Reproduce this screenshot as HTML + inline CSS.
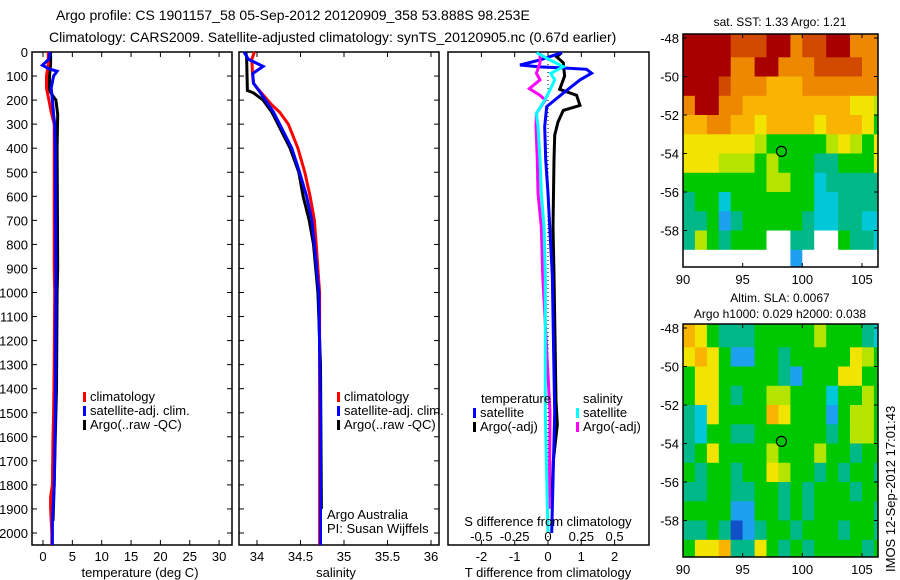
<!DOCTYPE html>
<html><head><meta charset="utf-8"><style>
html,body{margin:0;padding:0;background:#fff;}
svg{display:block;font-family:"Liberation Sans",sans-serif;}
</style></head><body>
<svg id="s" width="900" height="580" viewBox="0 0 900 580" xmlns="http://www.w3.org/2000/svg">
<text x="56" y="20" font-size="14">Argo profile: CS 1901157_58 05-Sep-2012 20120909_358 53.888S 98.253E</text>
<text x="49" y="42" font-size="14">Climatology: CARS2009. Satellite-adjusted climatology: synTS_20120905.nc (0.67d earlier)</text>
<g id="g"></g>
</svg>
<script>
// ---- data ----
const depthTicks=[0,100,200,300,400,500,600,700,800,900,1000,1100,1200,1300,1400,1500,1600,1700,1800,1900,2000];
const tempTicks=[0,5,10,15,20,25,30];
const salTicks=[34,34.5,35,35.5,36];
const salTickLabels=["34","34.5","35","35.5","36"];
const tdTicks=[-2,-1,0,1,2];
const sdTicks=[-0.5,-0.25,0,0.25,0.5];
const sdTickLabels=["-0.5","-0.25","0","0.25","0.5"];

const tClimD=[0,50,100,150,200,250,300,400,600,900,1000,1300,1500,1600,1800,1850,1900,2000,2050];
const tClimV=[0.9,0.9,0.6,0.6,1.0,1.4,1.9,1.9,1.9,1.9,2.0,1.9,1.8,1.7,1.6,1.3,1.3,1.5,1.5];
const tSatD=[0,30,55,70,80,100,150,200,260,300,400,1000,1500,1800,1950,2050];
const tSatV=[1.2,1.0,-0.1,1.0,2.4,1.8,1.4,1.6,1.8,2.0,2.1,2.2,2.1,1.9,1.6,1.6];
const tArgD=[0,50,100,160,180,200,260,400,900,1000,1400,1600,1800,1950];
const tArgV=[1.3,1.3,1.1,1.1,1.6,2.2,2.5,2.4,2.5,2.4,2.3,2.1,1.9,1.7];

const sClimD=[0,30,100,130,170,220,250,300,400,500,600,700,800,1000,1500,2050];
const sClimV=[33.97,33.94,33.95,33.96,34.05,34.17,34.26,34.36,34.47,34.55,34.61,34.66,34.68,34.72,34.72,34.72];
const sSatD=[0,30,60,90,130,170,250,300,400,500,600,700,800,1000,1500,2050];
const sSatV=[33.85,33.90,34.07,33.95,33.96,34.04,34.19,34.26,34.40,34.49,34.57,34.63,34.66,34.71,34.73,34.73];
const sArgD=[0,20,160,170,200,250,300,400,500,600,700,800,1000,1300,1900];
const sArgV=[33.87,33.88,33.89,33.96,34.07,34.17,34.24,34.38,34.48,34.53,34.60,34.65,34.70,34.73,34.74];

const dTSatD=[3,33,54,62,67,72,88,116,171,227,310,448,587,726,927,1500,2000];
const dTSatV=[0.41,-0.24,-0.84,-0.24,0.56,1.16,1.31,0.96,0.46,-0.04,-0.1,-0.07,0,0.05,0.13,0.2,0.11];
const dTArgD=[3,20,45,100,155,180,222,243,291,346,448,726,927,1450,1550,1700,1850];
const dTArgV=[0.41,0.26,0.46,0.5,0.35,0.86,0.96,0.46,0.3,0.2,0.18,0.15,0.18,0.24,0.28,0.16,0.12];
const dSSatD=[3,33,61,89,116,158,200,255,310,448,587,726,927,1500,2000];
const dSSatV=[-0.085,0.015,0.115,0.02,0.05,0.015,-0.025,-0.087,-0.075,-0.06,-0.05,-0.03,-0.02,-0.02,0];
const dSArgD=[3,45,89,116,152,180,200,255,310,448,587,726,927,1500,1900];
const dSArgV=[-0.06,-0.06,-0.087,-0.06,-0.14,-0.06,-0.02,-0.087,-0.09,-0.08,-0.075,-0.05,-0.04,0.015,0.01];

const sstRows=["11112221132211333","11113311333222233","11123334443333333","31133444444444556","44334454444544457","55555567777765675","55566676777887775","77777776677988888","87797777777998888","887A8777778998899","86787770088007889","000000000A0000000"];
const slaRows=["45788877777677789","5457AA77877777567","755777778A7775577","75578776677797767","895777745777A7667","89778877777787667","87577776777677877","78778775677878778","88778877878777877","7777AA77878777778","8878BA87787778778","75548857878777787"];
const lonTicks=[90,95,100,105];
const latTicks=[-48,-50,-52,-54,-56,-58];
const floatLon=98.25, floatLat=-53.89;

// ---- helpers ----
const NS="http://www.w3.org/2000/svg";
const G=document.getElementById('g');
function mk(tag,attrs,parent){const e=document.createElementNS(NS,tag);for(const k in attrs)e.setAttribute(k,attrs[k]);(parent||G).appendChild(e);return e;}
function txt(x,y,s,size,anchor,parent){const e=mk('text',{x:x,y:y,'font-size':size||13,'text-anchor':anchor||'start'},parent);e.textContent=s;return e;}

const TOP=52,BOT=545;
const yD=d=>TOP+d*0.2405;
const xT=t=>43+t*5.87;
const xS=s=>257+(s-34)*87;
const xTD=v=>548+v*33.3;
const xSD=v=>548+v*133.2;

function frame(x0,x1,name){const r=mk('rect',{x:x0,y:TOP,width:x1-x0,height:BOT-TOP,fill:'none',stroke:'#000','stroke-width':1.5});}
function line(D,V,fx,col,name,w){const pts=D.map((d,i)=>fx(V[i]).toFixed(1)+','+yD(d).toFixed(1)).join(' ');const p=mk('polyline',{points:pts,fill:'none',stroke:col,'stroke-width':w||3,'stroke-linejoin':'miter'});}
function xticks(vals,fx){vals.forEach(v=>{const x=fx(v);mk('line',{x1:x,y1:TOP,x2:x,y2:TOP+5,stroke:'#000'});mk('line',{x1:x,y1:BOT,x2:x,y2:BOT-5,stroke:'#000'});});}
function yticks(x0,x1){depthTicks.forEach(d=>{const y=yD(d);mk('line',{x1:x0,y1:y,x2:x0+5,y2:y,stroke:'#000'});mk('line',{x1:x1,y1:y,x2:x1-5,y2:y,stroke:'#000'});});}
function legend(x,y,col,label,name){const r=mk('rect',{x:x,y:y-8,width:3,height:10,fill:col});const t=txt(x+7,y+1,label,13);}

// Panel 1 temperature
frame(32,232,'temperature-panel');
xticks(tempTicks,xT);yticks(32,232);
depthTicks.forEach(d=>{const t=txt(28,yD(d)+5,String(d),13,'end');});
tempTicks.forEach(v=>txt(xT(v),561,String(v),13,'middle'));
txt(140,577,'temperature (deg C)',13,'middle');
line(tArgD,tArgV,xT,'#000','temp-argo-line');
line(tClimD,tClimV,xT,'#f00','temp-climatology-line');
line(tSatD,tSatV,xT,'#00f','temp-satellite-line');
legend(83,400,'#f00','climatology','legend-climatology');
legend(83,414,'#00f','satellite-adj. clim.','legend-satellite');
legend(83,428,'#000','Argo(..raw -QC)','legend-argo');

// Panel 2 salinity
frame(239,439,'salinity-panel');
xticks(salTicks,xS);yticks(239,439);
salTicks.forEach((v,i)=>txt(xS(v),561,salTickLabels[i],13,'middle'));
txt(336,577,'salinity',13,'middle');
line(sArgD,sArgV,xS,'#000','sal-argo-line');
line(sClimD,sClimV,xS,'#f00','sal-climatology-line');
line(sSatD,sSatV,xS,'#00f','sal-satellite-line');
legend(337,400,'#f00','climatology','legend-climatology-2');
legend(337,414,'#00f','satellite-adj. clim.','legend-satellite-2');
legend(337,428,'#000','Argo(..raw -QC)','legend-argo-2');
txt(327,519,'Argo Australia',13);
txt(327,533,'PI: Susan Wijffels',13);

// Panel 3 differences
frame(448,649,'difference-panel');
xticks(tdTicks,xTD);
mk('line',{x1:548,y1:TOP,x2:548,y2:BOT,stroke:'#000','stroke-dasharray':'1,3'});
line(dTArgD,dTArgV,xTD,'#000','tdiff-argo-line');
line(dTSatD,dTSatV,xTD,'#00f','tdiff-satellite-line');
line(dSArgD,dSArgV,xSD,'#f0f','sdiff-argo-line');
line(dSSatD,dSSatV,xSD,'#0ff','sdiff-satellite-line');
txt(481,403,'temperature',13);txt(583,403,'salinity',13);
legend(473,416,'#00f','satellite','legend-t-satellite');
legend(473,430,'#000','Argo(-adj)','legend-t-argo');
legend(576,416,'#0ff','satellite','legend-s-satellite');
legend(576,430,'#f0f','Argo(-adj)','legend-s-argo');
txt(548,526,'S difference from climatology',13,'middle');
sdTicks.forEach((v,i)=>txt(xSD(v),541,sdTickLabels[i],13,'middle'));
tdTicks.forEach(v=>txt(xTD(v),561,String(v),13,'middle'));
txt(548,577,'T difference from climatology',13,'middle');

// Maps
const CM={'0':'#ffffff','1':'#a80000','2':'#d24a00','3':'#ee8800','4':'#f8b400','5':'#f0e400','6':'#b4e400','7':'#00c800','8':'#00b888','9':'#00c8d8','A':'#1ea0f0','B':'#1050c8'};
function map(top,bot,rows,name,cid){
  const L=683,R=878;
  const xL=lon=>683+(lon-90)*11.93;
  const yL=lat=>top+4+(-48-lat)*19.25;
  const cp=mk('clipPath',{id:cid});mk('rect',{x:L,y:top,width:R-L,height:bot-top},cp);
  const g=mk('g',{'clip-path':'url(#'+cid+')'});
  
  rows.forEach((row,i)=>{for(let j=0;j<row.length;j++){
    const lat0=-48-i, y0=i===0?top:yL(lat0);
    const x0=j===0?L-2:xL(90+j), x1=xL(91+j)+0.5, y1=yL(lat0-1)+(i===rows.length-1?30:0.5);
    mk('rect',{x:x0.toFixed(1),y:y0.toFixed(1),width:(x1-x0).toFixed(1),height:(y1-y0).toFixed(1),fill:CM[row[j]]||'#fff'},g);
  }});
  const f=mk('rect',{x:L,y:top,width:R-L,height:bot-top,fill:'none',stroke:'#000','stroke-width':1.5});
  
  lonTicks.forEach(v=>{const x=xL(v);mk('line',{x1:x,y1:bot,x2:x,y2:bot-4,stroke:'#000'});mk('line',{x1:x,y1:top,x2:x,y2:top+4,stroke:'#000'});txt(x,bot+17,String(v),13,'middle');});
  latTicks.forEach(v=>{const y=yL(v);mk('line',{x1:L,y1:y,x2:L+4,y2:y,stroke:'#000'});mk('line',{x1:R,y1:y,x2:R-4,y2:y,stroke:'#000'});txt(L-4,y+5,String(v),13,'end');});
  const c=mk('circle',{cx:xL(floatLon),cy:yL(floatLat),r:5,fill:'none',stroke:'#000','stroke-width':1.2});
  
}
map(34,267,sstRows,'sst-map','c1');
map(324,557,slaRows,'sla-map','c2');
txt(780,26,'sat. SST: 1.33 Argo: 1.21',12,'middle');
txt(780,302,'Altim. SLA: 0.0067',12,'middle');
txt(780,318,'Argo h1000: 0.029 h2000: 0.038',12,'middle');
const ts=txt(0,0,'IMOS 12-Sep-2012 17:01:43',13,'start');
ts.setAttribute('transform','translate(895,572) rotate(-90)');

</script>
</body></html>
